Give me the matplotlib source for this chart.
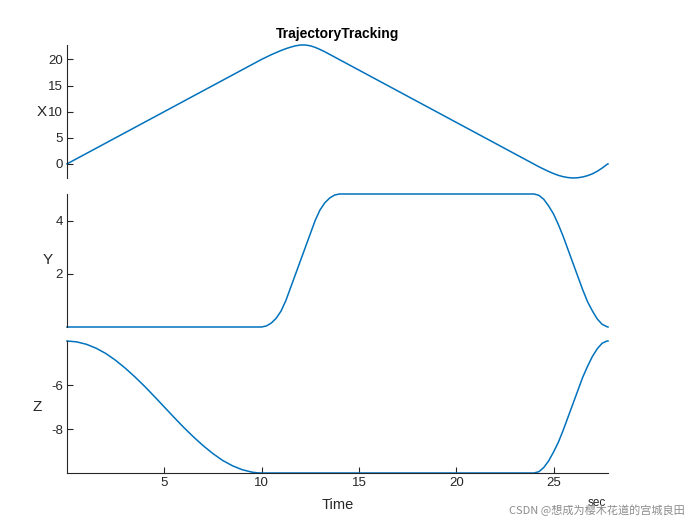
import matplotlib
matplotlib.use("Agg")
import matplotlib.pyplot as plt

plt.rcParams["font.family"] = ["Liberation Sans", "Noto Sans CJK SC", "DejaVu Sans"]
plt.rcParams["axes.unicode_minus"] = False

# time in seconds (finer sampling where the curves bend)
time_s = [0.0, 0.5, 1.0, 1.5, 2.0, 2.5, 3.0, 3.5, 4.0, 4.5,
          5.0, 5.5, 6.0, 6.5, 7.0, 7.5, 8.0, 8.5, 9.0, 9.5,
          9.75, 10.0, 10.25, 10.5, 10.75, 11.0, 11.25, 11.5, 11.75, 12.0,
          12.25, 12.5, 12.75, 13.0, 13.25, 13.5, 13.75, 14.0, 14.25, 14.5,
          15.0, 15.5, 16.0, 16.5, 17.0, 17.5, 18.0, 18.5, 19.0, 19.5,
          20.0, 20.5, 21.0, 21.5, 22.0, 22.5, 23.0, 23.5,
          23.75, 24.0, 24.25, 24.5, 24.75, 25.0, 25.25, 25.5, 25.75, 26.0,
          26.25, 26.5, 26.75, 27.0, 27.25, 27.5, 27.75, 27.8]

x_pos = [0.0, 1.0, 2.0, 3.0, 4.0, 5.0, 6.0, 7.0, 8.0, 9.0,
         10.0, 11.0, 12.0, 13.0, 14.0, 15.0, 16.0, 17.0, 18.0, 19.0,
         19.5, 20.0, 20.45, 20.9, 21.3, 21.7, 22.05, 22.35, 22.6, 22.75,
         22.75, 22.6, 22.3, 21.9, 21.45, 20.95, 20.45, 19.95, 19.45, 18.95,
         17.95, 16.95, 15.95, 14.95, 13.95, 12.95, 11.95, 10.95, 9.95, 8.95,
         7.95, 6.95, 5.95, 4.95, 3.95, 2.95, 1.95, 0.95,
         0.45, -0.05, -0.55, -1.0, -1.45, -1.85, -2.2, -2.45, -2.62, -2.7,
         -2.65, -2.5, -2.25, -1.9, -1.4, -0.8, -0.1, 0.0]

y_pos = [0.0, 0.0, 0.0, 0.0, 0.0, 0.0, 0.0, 0.0, 0.0, 0.0,
         0.0, 0.0, 0.0, 0.0, 0.0, 0.0, 0.0, 0.0, 0.0, 0.0,
         0.0, 0.0, 0.04, 0.15, 0.33, 0.6, 1.0, 1.5, 2.0, 2.5,
         3.0, 3.5, 4.0, 4.4, 4.67, 4.85, 4.96, 5.0, 5.0, 5.0,
         5.0, 5.0, 5.0, 5.0, 5.0, 5.0, 5.0, 5.0, 5.0, 5.0,
         5.0, 5.0, 5.0, 5.0, 5.0, 5.0, 5.0, 5.0,
         5.0, 5.0, 4.95, 4.8, 4.55, 4.25, 3.85, 3.4, 2.9, 2.4,
         1.9, 1.4, 0.95, 0.6, 0.3, 0.1, 0.01, 0.0]

z_pos = [-4.0, -4.04, -4.15, -4.33, -4.57, -4.88, -5.24, -5.64, -6.07, -6.53,
         -7.0, -7.47, -7.93, -8.36, -8.76, -9.12, -9.43, -9.67, -9.85, -9.96,
         -9.99, -10.0, -10.0, -10.0, -10.0, -10.0, -10.0, -10.0, -10.0, -10.0,
         -10.0, -10.0, -10.0, -10.0, -10.0, -10.0, -10.0, -10.0, -10.0, -10.0,
         -10.0, -10.0, -10.0, -10.0, -10.0, -10.0, -10.0, -10.0, -10.0, -10.0,
         -10.0, -10.0, -10.0, -10.0, -10.0, -10.0, -10.0, -10.0,
         -10.0, -10.0, -9.94, -9.75, -9.45, -9.05, -8.6, -8.05, -7.45, -6.85,
         -6.25, -5.65, -5.15, -4.7, -4.35, -4.1, -4.0, -4.0]

var_names = ["X", "Y", "Z"]
y_ticks = [[0, 5, 10, 15, 20], [2, 4], [-8, -6]]
x_ticks = [5, 10, 15, 20, 25]

line_color = "#0072BD"
axis_color = "#262626"

fig = plt.figure(figsize=(7, 5.25), dpi=100)

left, width = 67 / 700, (608 - 67) / 700
panels = [(45, 178), (194, 327), (341, 473)]  # top/bottom pixel rows
series = [x_pos, y_pos, z_pos]
label_x = [0.060, 0.068, 0.053]

for i, (top, bot) in enumerate(panels):
    ax = fig.add_axes([left, 1 - bot / 525, width, (bot - top) / 525])
    ax.plot(time_s, series[i], color=line_color, linewidth=1.1, clip_on=False)
    ax.set_xlim(time_s[0], time_s[-1])
    ax.set_ylim(min(series[i]), max(series[i]))
    ax.set_yticks(y_ticks[i])
    for side in ["top", "right"]:
        ax.spines[side].set_visible(False)
    ax.spines["left"].set_color(axis_color)
    ax.spines["bottom"].set_color(axis_color)
    ax.tick_params(axis="both", direction="in", length=4, colors=axis_color,
                   labelsize=9.5, width=0.8, pad=3)
    if i < 2:
        ax.spines["bottom"].set_visible(False)
        ax.set_xticks([])
    else:
        ax.set_xticks(x_ticks)
    fig.text(label_x[i], 1 - (top + bot) / 2 / 525, var_names[i],
             ha="center", va="center", fontsize=11, color=axis_color)

fig.text(left + width / 2, 1 - 34 / 525, "TrajectoryTracking", ha="center",
         va="center", fontsize=10, fontweight="bold", color="black")
fig.text(left + width / 2, 1 - 505 / 525, "Time", ha="center", va="center",
         fontsize=10.5, color=axis_color)
fig.text(597 / 700, 1 - 503 / 525, "sec", ha="center", va="center",
         fontsize=8.5, color=axis_color)
fig.text(685 / 700, 1 - 510 / 525, "CSDN @想成为樱木花道的宫城良田", ha="right",
         va="center", fontsize=8, color="#8c8c8c",
         family=["Noto Sans CJK SC", "DejaVu Sans"])

fig.savefig("out.png", dpi=100)
